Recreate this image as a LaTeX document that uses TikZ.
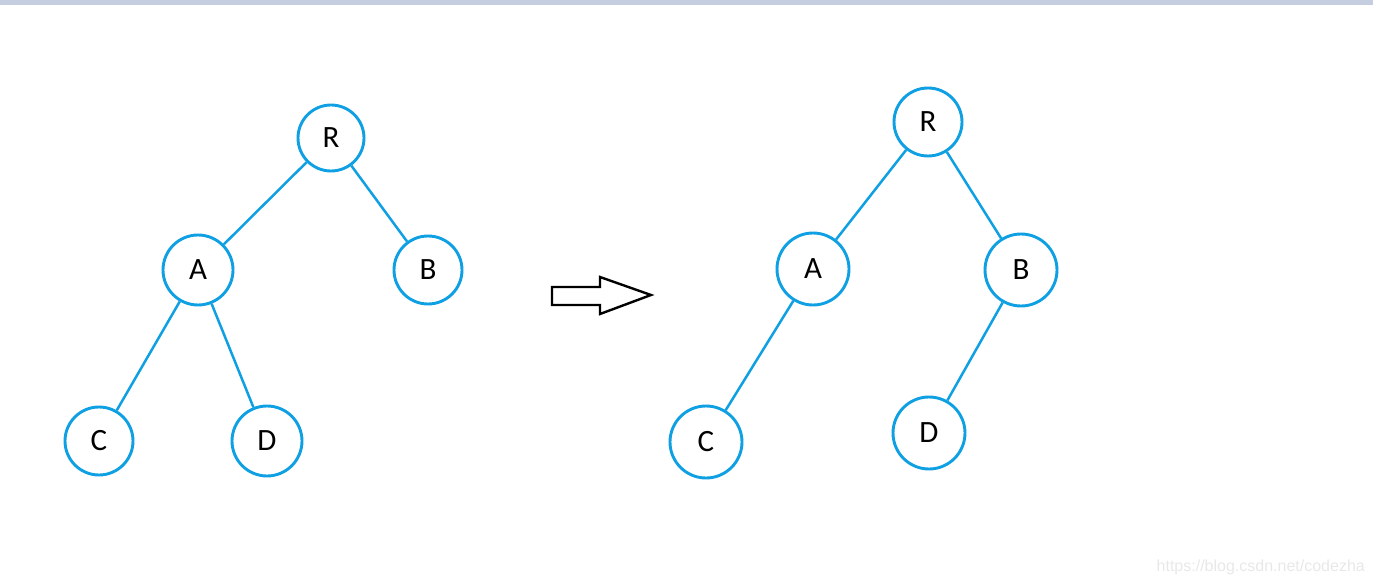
\documentclass[tikz,border=0pt]{standalone}
\usepackage{fontspec}
\setmainfont{Carlito}
\newfontfamily\wmfont{Liberation Sans}
\definecolor{treeblue}{RGB}{14,160,226}
\definecolor{topbar}{RGB}{196,206,224}
\definecolor{wmgray}{RGB}{232,232,232}
\begin{document}
\begin{tikzpicture}[x=1pt,y=-1pt,
  tnode/.style={circle,draw=treeblue,line width=2.9pt,inner sep=0pt,minimum size=#1,font=\fontsize{31}{36}\selectfont},
  tnode/.default=68pt,
  tedge/.style={draw=treeblue,line width=2.5pt}]
\useasboundingbox (0,0) rectangle (1373,585);
\fill[topbar] (0,0) rectangle (1373,5);
% left tree
\node[tnode=66pt] (lR) at (331,138) {R};
\node[tnode=70pt] (lA) at (198,270) {A};
\node[tnode=68pt] (lB) at (428,270) {B};
\node[tnode=68pt] (lC) at (99,441) {C};
\node[tnode=70pt] (lD) at (267,441) {D};
\draw[tedge] (lR) -- (lA);
\draw[tedge] (lR) -- (lB);
\draw[tedge] (lA) -- (lC);
\draw[tedge] (lA) -- (lD);
% arrow
\draw[line width=2.4pt,fill=white,line join=miter]
  (552,287) -- (600,287) -- (600,277) -- (651,295) -- (600,314) -- (600,305) -- (552,305) -- cycle;
% right tree
\node[tnode=68pt] (rR) at (928,122) {R};
\node[tnode=72pt] (rA) at (813,269) {A};
\node[tnode=72pt] (rB) at (1021,270) {B};
\node[tnode=72pt] (rC) at (706,442) {C};
\node[tnode=72pt] (rD) at (929,433) {D};
\draw[tedge] (rR) -- (rA);
\draw[tedge] (rR) -- (rB);
\draw[tedge] (rA) -- (rC);
\draw[tedge] (rB) -- (rD);
% watermark
\node[anchor=east,text=wmgray,font=\wmfont\fontsize{16}{18}\selectfont,inner sep=0pt] (wm) at (1365,567) {https://blog.csdn.net/codezha};
\end{tikzpicture}
\end{document}
